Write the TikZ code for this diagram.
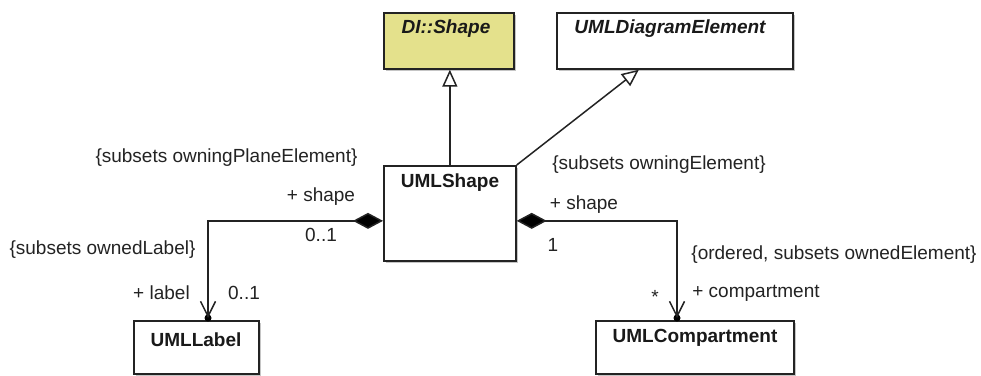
\documentclass[tikz,border=0pt]{standalone}
\usepackage{fontspec}
\setmainfont{Liberation Sans}
\usetikzlibrary{arrows.meta,shadows,calc}
\definecolor{diyellow}{RGB}{228,225,140}
\definecolor{lc}{RGB}{35,35,35}
\begin{document}
\begin{tikzpicture}[x=1pt,y=-1pt,
  cls/.style={draw=lc, line width=1.7pt, fill=white, anchor=north west, inner sep=0pt,
    drop shadow={shadow xshift=2pt, shadow yshift=-2pt, fill=black!45, opacity=0.5}},
  cname/.style={font=\fontsize{19}{22}\selectfont\bfseries, text=black!90, inner sep=0pt},
  txt/.style={font=\fontsize{19}{22}\selectfont, text=lc, inner sep=0pt},
  conn/.style={draw=lc, line width=1.5pt},
  gen/.style={conn, -{Triangle[open, length=17pt, width=15pt, fill=white]}},
  comp/.style={conn, {Diamond[length=30pt, width=16pt, fill=black]}-{Straight Barb[length=15pt, width=15pt]}},
  dotn/.style={circle, fill=black, inner sep=0pt, minimum size=7pt}
]
\useasboundingbox[fill=white] (0,0) rectangle (981,375);

% classes
\node[cls, fill=diyellow, minimum width=130pt, minimum height=56pt] (di) at (383,12) {};
\node[cname, font=\fontsize{19}{22}\selectfont\bfseries\itshape] (dil) at (446,29) {DI::Shape};
\node[cls, minimum width=236pt, minimum height=56pt] (de) at (556,12) {};
\node[cname, font=\fontsize{19}{22}\selectfont\bfseries\itshape] (del) at (670,29) {UMLDiagramElement};
\node[cls, minimum width=132pt, minimum height=95pt] (sh) at (383,165) {};
\node[cname] (shl) at (450,183) {UMLShape};
\node[cls, minimum width=125pt, minimum height=53pt] (lb) at (133,320) {};
\node[cname] (lbl) at (196,340) {UMLLabel};
\node[cls, minimum width=198pt, minimum height=53pt] (cp) at (595,320) {};
\node[cname] (cpl) at (695,338) {UMLCompartment};

% generalizations
\draw[gen] (sh.north) -- (sh.north |- di.south);
\draw[gen] (sh.north east) -- ($(de.south)+(-36,0)$);

% compositions
\coordinate (lstart) at ($(sh.west)+(0,7.5)$);
\coordinate (rstart) at ($(sh.east)+(0,7.5)$);
\node[dotn] (ld) at (208,318) {};
\node[dotn] (rd) at (677,318) {};
\draw[comp] (lstart) -| (ld.center);
\draw[comp] (rstart) -| (rd.center);

% texts
\node[txt] (t1) at (226.5,158) {\{subsets owningPlaneElement\}};
\node[txt] (t2) at (321,197) {+ shape};
\node[txt] (t3) at (321,235) {0..1};
\node[txt] (t4) at (102.5,250) {\{subsets ownedLabel\}};
\node[txt] (t5) at (161.5,293) {+ label};
\node[txt] (t6) at (244,293) {0..1};
\node[txt] (t7) at (659,165) {\{subsets owningElement\}};
\node[txt] (t8) at (584,205) {+ shape};
\node[txt] (t9) at (553,245) {1};
\node[txt] (t10) at (834,255) {\{ordered, subsets ownedElement\}};
\node[txt] (t11) at (655,297) {*};
\node[txt] (t12) at (756,293) {+ compartment};
\end{tikzpicture}
\end{document}
